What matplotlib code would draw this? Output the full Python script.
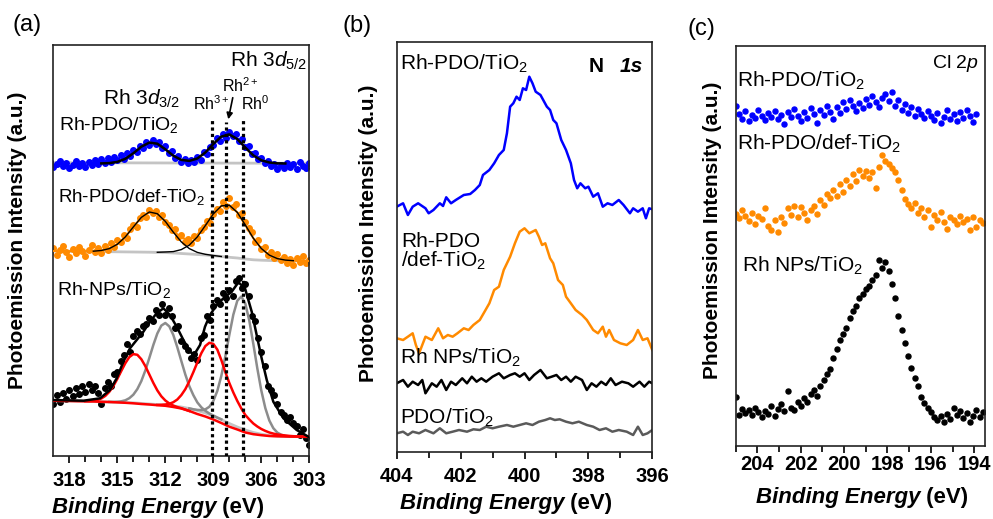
import matplotlib.pyplot as plt
import numpy as np

plt.rcParams['font.family'] = ['Liberation Sans', 'DejaVu Sans']
plt.rcParams['mathtext.fontset'] = 'custom'
plt.rcParams['mathtext.rm'] = 'Liberation Sans'
plt.rcParams['mathtext.it'] = 'Liberation Sans:italic'
plt.rcParams['mathtext.bf'] = 'Liberation Sans:bold'

BLUE = '#0000ff'
ORANGE = '#ff8a00'
GREY = '#8c8c8c'
LIGHT = '#c4c4c4'


def energies(start, step, values):
    """binding energy axis for values sampled from `start` downwards"""
    return start - step * np.arange(len(values))


# ---------------- (a) Rh 3d ----------------
# raw points, 0.2 eV steps starting at 319.2 eV
rh_pdo_dots = [294, 289, 292, 295, 290, 293, 288, 291, 295, 290, 293, 289, 294, 291, 296, 292,
               297, 293, 298, 294, 299, 296, 301, 297, 303, 300, 306, 304, 310, 308, 314, 311,
               316, 312, 314, 308, 310, 303, 305, 298, 300, 294, 297, 293, 296, 294, 299, 296,
               304, 302, 309, 311, 318, 315, 322, 318, 324, 320, 322, 315, 317, 309, 310, 302,
               303, 297, 298, 293, 295, 290, 292, 287, 291, 288, 293, 289, 292, 287, 294, 290,
               288, 293]
rh_def_dots = [203, 208, 201, 206, 210, 204, 199, 207, 203, 209, 205, 200, 206, 211, 204, 208,
               203, 210, 206, 213, 209, 216, 214, 221, 218, 227, 231, 229, 238, 241, 239, 246,
               243, 245, 239, 241, 234, 231, 226, 227, 219, 221, 214, 217, 213, 220, 218, 226,
               229, 235, 233, 242, 247, 245, 254, 250, 258, 249, 252, 241, 243, 234, 228, 224,
               214, 216, 207, 209, 201, 204, 198, 202, 196, 199, 193, 197, 191, 198, 194, 200,
               193, 196]
rh_nps_dots = [58, 52, 61, 54, 63, 57, 66, 60, 68, 62, 70, 64, 72, 66, 70, 63,
               52, 68, 74, 70, 82, 84, 95, 101, 112, 104, 120, 125, 122, 130, 132, 138,
               135, 146, 141, 152, 141, 148, 140, 128, 130, 115, 110, 106, 98, 102, 96, 118,
               121, 140, 136, 150, 156, 152, 163, 158, 166, 160, 175, 178, 168, 172, 160, 140,
               135, 118, 104, 90, 70, 66, 61, 52, 44, 41, 36, 39, 33, 30, 21, 27,
               18, 11]

# fit of Rh-PDO/TiO2, 0.5 eV steps from 316 eV
rh_pdo_fit = [292.6, 292.9, 294.1, 297.2, 302.7, 309.3, 313.4, 312.3, 306.7, 300.3, 296.1, 295.1,
              297.5, 303.5, 312.0, 319.4, 321.6, 316.9, 308.4, 300.6, 295.7, 293.5, 292.7, 292.5]
rh_pdo_bg = [293.3, 292.7]

# Rh-PDO/def-TiO2: background, two components and envelope (0.5 eV steps)
rh_def_bg = [205, 204.9, 204.8, 204.7, 204.6, 204.5, 204.4, 204.3, 204.2, 204.1, 204, 203.9,
             203.8, 203.6, 203.5, 203, 202.5, 202, 201.5, 201, 200.3, 199.5, 198.7, 198,
             197, 196.2, 195.8, 195.5, 195.3, 195.2, 195.1, 195, 195]
rh_def_p1 = [204.8, 205.5, 207.4, 211.7, 219.1, 229, 238.6, 244, 242.3, 234.6, 223.8, 214.1,
             207.4, 203.6, 201.7, 200.5, 199.5]
rh_def_p2 = [203.7, 204, 204.4, 206.4, 210.9, 219.1, 230.4, 242.1, 250.1, 250.8, 243.6, 231,
             217.8, 207.5, 200.9, 197.4, 195.9, 195.3]
rh_def_env = [205, 204.9, 204.8, 204.7, 204.6, 204.8, 205.5, 207.4, 211.7, 219.1, 229, 238.6,
              244, 242.4, 235.1, 225.2, 218, 216.3, 221.2, 231.1, 242.3, 250.1, 250.8, 243.6,
              231, 217.8, 207.5, 200.9, 197.4, 195.9, 195.3, 195, 195]

# Rh-NPs/TiO2: backgrounds (0.5 eV) and components (0.25 eV)
rh_nps_bg_red = [55.3, 55.1, 55, 54.8, 54.7, 54.5, 54.2, 54, 53.6, 53.2, 52.7, 52, 51.5, 50.8,
                 50.2, 49, 47.5, 45, 42, 39.5, 36.5, 33, 29.3, 26.5, 23.5, 21.8, 20.8, 20,
                 19.7, 19.5, 19.4, 19.3, 19.3]
rh_nps_bg_grey = [55.3, 55.2, 55, 54.9, 54.7, 54.5, 54.3, 54, 53.8, 53.5, 53.2, 52.6, 52, 51.5,
                  51, 50, 49, 47.5, 45.5, 43, 40, 36.5, 32.5, 29, 26, 23.5, 21.8, 20.5, 19.8,
                  19.5, 19.4, 19.3, 19.3]
rh_nps_red1 = [54.8, 54.9, 55.3, 56, 57.5, 60.1, 64.2, 69.9, 77.1, 85.1, 92.8, 98.9, 101.9, 101.2,
               96.8, 89.9, 81.5, 73.1, 65.6, 59.7, 55.5, 52.5, 50.4, 48.9, 47.8, 46.4, 45]
rh_nps_red2 = [51.1, 51.2, 51.5, 52.2, 53.8, 56.5, 60.9, 66.8, 74.7, 83.8, 93.5, 102.8, 109.9,
               113.2, 112.1, 106.4, 96, 84, 73, 63.5, 55, 47.5, 41, 36.5, 32.5, 29.5, 27, 25.1,
               23.5, 22.4, 21.5, 21, 20.5, 20.1, 19.8, 19.6, 19.5, 19.4, 19.3]
rh_nps_grey1 = [54.1, 54.1, 54.3, 54.7, 55.7, 57.8, 61.3, 66.9, 74.9, 85.5, 98, 111, 122.5, 130.4,
                133, 129.6, 121, 108.7, 95, 81.5, 69.8, 60.9, 53.6, 48.7, 45.2, 42.5, 40.5,
                38.4, 36.6]
rh_nps_grey2 = [47.6, 46.7, 46.1, 45.9, 46.6, 49.2, 55, 65.1, 80.1, 99.5, 121.1, 141.3, 155.3,
                159.5, 152.3, 135.3, 112.1, 87.6, 65.4, 47.9, 35.5, 27.8, 23.4, 21.2, 20.1,
                19.6, 19.5]
rh_nps_env_e = [319.2, 317.1, 316.08, 315.46, 315.04, 314.62, 314.21, 313.79, 313.37, 312.96,
                312.54, 312.12, 311.71, 311.29, 310.87, 310.46, 310.21, 309.83, 309.52, 309.21,
                308.79, 308.37, 307.85, 307.43, 307.02, 306.6, 306.29, 305.98, 305.66, 305.25,
                304.62, 303.79, 303.06]
rh_nps_env = [56, 55.3, 57.7, 66, 77.7, 94.3, 107.7, 116, 124.3, 134.3, 142.7, 147.7, 141, 129.3,
              116, 104.3, 101, 111, 129.3, 141, 151, 157.7, 164.3, 173.7, 167.7, 144.3, 121,
              97.7, 76, 54.3, 37.7, 26, 19.3]

rh_states = [309.1, 308.2, 307.15]
rh_state_tops = [338, 334, 338]

# ---------------- (b) N 1s, 0.1-ish eV sampling ----------------
n_pdo_e = [404.0, 403.8, 403.65, 403.5, 403.33, 403.1, 403.0, 402.85, 402.65, 402.55, 402.45,
           402.3, 402.15, 401.9, 401.7, 401.55, 401.4, 401.3, 401.1, 400.95, 400.8, 400.65,
           400.55, 400.45, 400.35, 400.25, 400.15, 400.05, 399.95, 399.85, 399.75, 399.65,
           399.5, 399.3, 399.2, 399.1, 399.0, 398.85, 398.7, 398.55, 398.45, 398.35, 398.25,
           398.1, 398.0, 397.85, 397.7, 397.55, 397.4, 397.25, 397.05, 396.9, 396.7, 396.6,
           396.45, 396.3, 396.2, 396.1, 396.0]
n_pdo = [245.3, 248.7, 237, 245.3, 248.7, 243.7, 238.7, 242, 248.7, 246, 254.7, 248.7, 252, 257,
         258, 262, 267, 277, 282, 288.7, 297, 302, 318.7, 345.3, 348.7, 355.3, 352, 363.7, 362,
         375.3, 368.7, 360.3, 357, 345.3, 342, 332, 328.7, 312, 302, 288.7, 272, 263.7, 268.7,
         263.7, 265.3, 255.3, 258.7, 245.3, 248.7, 247, 252, 247, 238.7, 243.7, 240.3, 243.7,
         233.7, 243.7, 242.7]
n_def_e = [404.0, 403.8, 403.65, 403.5, 403.4, 403.3, 403.2, 403.1, 402.9, 402.7, 402.55, 402.4,
           402.25, 402.1, 401.9, 401.75, 401.6, 401.4, 401.25, 401.1, 400.95, 400.8, 400.65,
           400.45, 400.3, 400.15, 400.0, 399.85, 399.65, 399.55, 399.45, 399.35, 399.2, 399.1,
           398.95, 398.8, 398.7, 398.55, 398.4, 398.2, 398.05, 397.85, 397.7, 397.55, 397.45,
           397.35, 397.2, 397.0, 396.8, 396.6, 396.45, 396.3, 396.15, 396.0]
n_def = [113.7, 112, 115.3, 118.7, 107, 98.7, 107, 115.3, 112, 123.7, 113.7, 117, 115.3, 118.7,
         123.7, 122, 127, 132, 140.3, 148.7, 162, 165.3, 182, 195.3, 208.7, 220.3, 223.7, 218.7,
         222, 215.3, 207, 208.7, 193.7, 188.7, 172, 167, 155.3, 148.7, 142, 137, 132, 122,
         118.7, 125.3, 115.3, 122, 112, 108.7, 107, 112, 122, 112, 113.7, 102]
n_nps_e = [404.0, 403.8, 403.65, 403.5, 403.33, 403.2, 403.1, 402.9, 402.75, 402.6, 402.45,
           402.3, 402.15, 401.95, 401.8, 401.65, 401.5, 401.35, 401.2, 401.0, 400.8, 400.65,
           400.45, 400.3, 400.15, 400.0, 399.85, 399.7, 399.5, 399.3, 399.15, 399.0, 398.85,
           398.7, 398.55, 398.4, 398.2, 398.05, 397.9, 397.75, 397.6, 397.45, 397.3, 397.15,
           396.95, 396.75, 396.6, 396.4, 396.25, 396.1, 396.0]
n_nps = [68.7, 72, 65.3, 70.3, 67, 72, 58.7, 68.7, 65.3, 72, 62, 70.3, 67, 73.7, 68.7, 75.3,
         70.3, 73.7, 70.3, 75.3, 78.7, 73.7, 77, 78.7, 75.3, 78.7, 72, 77, 82, 73.7, 75.3, 77,
         72, 75.3, 70.3, 75.3, 72, 62, 68.7, 65.3, 70.3, 67, 73.7, 67, 70.3, 68.7, 65.3, 70.3,
         65.3, 70.3, 68.7]
n_ref_e = [404.0, 403.8, 403.65, 403.5, 403.3, 403.1, 402.85, 402.65, 402.45, 402.25, 402.05,
           401.8, 401.6, 401.4, 401.2, 401.0, 400.8, 400.55, 400.35, 400.15, 399.95, 399.75,
           399.55, 399.35, 399.2, 399.05, 398.9, 398.7, 398.5, 398.3, 398.05, 397.85, 397.65,
           397.45, 397.25, 397.05, 396.8, 396.6, 396.45, 396.3, 396.15, 396.0]
n_ref = [18.7, 20.3, 17, 20.3, 18.7, 22, 18.7, 23.7, 18.7, 20.3, 22, 20.3, 22.7, 22, 25.3, 23.7,
         25.3, 27, 25.3, 27, 28.7, 27, 30.3, 32, 33.7, 32, 32.7, 30.3, 28.7, 30.3, 27, 25.3, 22,
         23.7, 20.3, 22, 20.3, 17, 25.3, 17, 18.7, 22]

# ---------------- (c) Cl 2p, 0.15 eV steps from 205 eV ----------------
cl_pdo = [340, 332, 327, 335, 325, 331, 328, 336, 330, 326, 333, 329, 335, 327, 331, 322,
          334, 329, 337, 330, 325, 334, 328, 338, 332, 323, 336, 331, 340, 334, 327, 339,
          333, 344, 337, 346, 340, 335, 343, 338, 347, 341, 350, 344, 339, 348, 352, 345,
          354, 340, 346, 336, 342, 333, 339, 330, 337, 332, 328, 335, 330, 326, 333, 323,
          329, 336, 327, 332, 325, 334, 328, 336, 330, 324, 332]
cl_def = [232, 228, 236, 230, 225, 233, 222, 230, 227, 238, 220, 216, 226, 214, 229, 223,
          238, 231, 240, 229, 239, 233, 226, 236, 240, 232, 246, 241, 252, 248, 256, 250,
          262, 254, 266, 260, 272, 265, 276, 270, 275, 268, 274, 258, 279, 291, 285, 282,
          278, 274, 266, 256, 247, 242, 238, 243, 233, 238, 229, 236, 219, 231, 226, 234,
          224, 217, 229, 226, 222, 230, 224, 227, 216, 229, 219, 226, 223]
cl_nps = [49, 31, 37, 33, 36, 31, 38, 34, 29, 35, 32, 40, 30, 37, 42, 35,
          55, 38, 36, 44, 40, 48, 44, 52, 56, 50, 60, 66, 72, 77, 88, 97,
          106, 112, 118, 128, 135, 140, 148, 152, 157, 160, 166, 171, 186, 178, 184, 175,
          162, 148, 130, 116, 103, 90, 78, 68, 60, 49, 43, 38, 34, 29, 26, 30,
          24, 32, 27, 38, 31, 35, 28, 33, 24, 30, 36, 29, 34]


def style_axis(ax, xlim, ylim, major, minor, pad):
    ax.set_xlim(*xlim)
    ax.set_ylim(*ylim)
    ax.set_yticks([])
    ax.set_xticks(major, labels=[str(v) for v in major], fontsize=14.5, fontweight='bold')
    ax.set_xticks(minor, minor=True)
    ax.tick_params(axis='x', which='major', direction='out', length=5, width=1.2, pad=pad)
    ax.tick_params(axis='x', which='minor', direction='out', length=4, width=1.2)
    for sp in ax.spines.values():
        sp.set_linewidth(1.2)
        sp.set_color('#222222')


def energy_label(x_split, y):
    fig.text(x_split / W, 1 - y / H, 'Binding Energy', ha='right', va='center',
             fontsize=16, fontweight='bold', fontstyle='italic')
    fig.text(x_split / W, 1 - y / H, ' (eV)', ha='left', va='center',
             fontsize=16, fontweight='bold')


def intensity_label(x, y):
    fig.text(x / W, 1 - y / H, 'Photoemission Intensity (a.u.)', rotation=90,
             ha='center', va='center', fontsize=15, fontweight='bold')


W, H = 993, 519
fig = plt.figure(figsize=(W / 100, H / 100), dpi=100)

# (a)
ax = fig.add_axes([0.0537, 0.1214, 0.2578, 0.7919])
ax.plot([319, 303], rh_pdo_bg, color=LIGHT, lw=2, zorder=1)
ax.scatter(energies(319.2, 0.2, rh_pdo_dots), rh_pdo_dots, s=16, color=BLUE, zorder=2)
ax.plot(energies(316, 0.5, rh_pdo_fit), rh_pdo_fit, color='k', lw=1.8, zorder=3)

ax.plot(energies(319, 0.5, rh_def_bg), rh_def_bg, color=LIGHT, lw=2, zorder=1)
ax.scatter(energies(319.2, 0.2, rh_def_dots), rh_def_dots, s=16, color=ORANGE, zorder=2)
ax.plot(energies(319, 0.5, rh_def_env), rh_def_env, color=ORANGE, lw=1.5, zorder=3)
ax.plot(energies(316.5, 0.5, rh_def_p1), rh_def_p1, color='k', lw=1.0, zorder=4)
ax.plot(energies(312.5, 0.5, rh_def_p2), rh_def_p2, color='k', lw=1.0, zorder=4)

ax.scatter(energies(319.2, 0.2, rh_nps_dots), rh_nps_dots, s=16, color='k', zorder=2)
ax.plot(energies(319, 0.5, rh_nps_bg_grey), rh_nps_bg_grey, color=LIGHT, lw=2, zorder=3)
ax.plot(energies(319, 0.5, rh_nps_bg_red), rh_nps_bg_red, color='#ff0000', lw=1.8, zorder=4)
ax.plot(energies(315.5, 0.25, rh_nps_grey1), rh_nps_grey1, color=GREY, lw=1.8, zorder=3)
ax.plot(energies(310.5, 0.25, rh_nps_grey2), rh_nps_grey2, color=GREY, lw=1.8, zorder=3)
ax.plot(energies(317, 0.25, rh_nps_red1), rh_nps_red1, color='#ff0000', lw=1.8, zorder=4)
ax.plot(energies(312.5, 0.25, rh_nps_red2), rh_nps_red2, color='#ff0000', lw=1.8, zorder=4)
ax.plot(rh_nps_env_e, rh_nps_env, color='k', lw=1.8, zorder=5)

for e, top in zip(rh_states, rh_state_tops):
    ax.plot([e, e], [0, top], color='k', lw=2.3, linestyle=(0, (1, 1)), zorder=6)

ax.text(313.5, 351, r'Rh 3$d_{3/2}$', ha='center', va='baseline', fontsize=15)
ax.text(305.55, 389, r'Rh 3$d_{5/2}$', ha='center', va='baseline', fontsize=15)
ax.text(309.15, 346, r'Rh$^{3+}$', ha='center', va='baseline', fontsize=11.5)
ax.text(307.3, 364, r'Rh$^{2+}$', ha='center', va='baseline', fontsize=11.5)
ax.text(306.4, 346, r'Rh$^{0}$', ha='center', va='baseline', fontsize=11.5)
ax.annotate('', xy=(308.1, 334), xytext=(307.75, 361),
            arrowprops=dict(arrowstyle='-|>', color='k', lw=1.2, mutation_scale=9))
ax.text(318.65, 326, r'Rh-PDO/TiO$_2$', fontsize=14, va='baseline')
ax.text(318.7, 254, r'Rh-PDO/def-TiO$_2$', fontsize=13.5, va='baseline')
ax.text(318.8, 161, r'Rh-NPs/TiO$_2$', fontsize=14, va='baseline')
style_axis(ax, (319, 303), (0, 411), [318, 315, 312, 309, 306, 303],
           list(range(304, 319)), 6)

# (b)
ax = fig.add_axes([0.3995, 0.1291, 0.2574, 0.7900])
ax.plot(n_pdo_e, n_pdo, color=BLUE, lw=1.8)
ax.plot(n_def_e, n_def, color=ORANGE, lw=1.8)
ax.plot(n_nps_e, n_nps, color='k', lw=1.8)
ax.plot(n_ref_e, n_ref, color='#5a5a5a', lw=1.8)
ax.text(403.9, 382, r'Rh-PDO/TiO$_2$', fontsize=15, va='baseline')
ax.text(403.85, 205, 'Rh-PDO', fontsize=15, va='baseline')
ax.text(403.85, 185, r'/def-TiO$_2$', fontsize=15, va='baseline')
ax.text(403.9, 88, r'Rh NPs/TiO$_2$', fontsize=15, va='baseline')
ax.text(403.9, 28, r'PDO/TiO$_2$', fontsize=15, va='baseline')
ax.text(0.965, 0.928, '1s', transform=ax.transAxes, ha='right', va='baseline',
        fontsize=15, fontweight='bold', fontstyle='italic')
ax.text(0.75, 0.928, 'N', transform=ax.transAxes, ha='left', va='baseline',
        fontsize=15, fontweight='bold')
style_axis(ax, (404, 396), (0, 410), [404, 402, 400, 398, 396], [403, 401, 399, 397], 6)

# (c)
ax = fig.add_axes([0.7409, 0.1412, 0.2511, 0.7707])
ax.scatter(energies(205.0, 0.15, cl_pdo), cl_pdo, s=13, color=BLUE)
ax.scatter(energies(205.0, 0.15, cl_def), cl_def, s=13, color=ORANGE)
ax.scatter(energies(205.0, 0.15, cl_nps), cl_nps, s=13, color='k')
ax.text(204.95, 359, r'Rh-PDO/TiO$_2$', fontsize=15, va='baseline')
ax.text(204.95, 296, r'Rh-PDO/def-TiO$_2$', fontsize=15, va='baseline')
ax.text(204.7, 174, r'Rh NPs/TiO$_2$', fontsize=15, va='baseline')
ax.text(193.8, 378, r'Cl 2$p$', ha='right', va='baseline', fontsize=14)
style_axis(ax, (205.0, 193.5), (0, 400), [204, 202, 200, 198, 196, 194],
           [205, 203, 201, 199, 197, 195], 2)

# panel letters and shared axis titles
for lbl, x, y in [('(a)', 27, 25), ('(b)', 357, 26), ('(c)', 701, 29)]:
    fig.text(x / W, 1 - y / H, lbl, ha='center', va='center', fontsize=17)

intensity_label(18, 240)
intensity_label(369, 233)
intensity_label(713, 230)
energy_label(216, 507)
energy_label(564.5, 503)
energy_label(920.5, 497)

fig.savefig('out.png', dpi=100)
